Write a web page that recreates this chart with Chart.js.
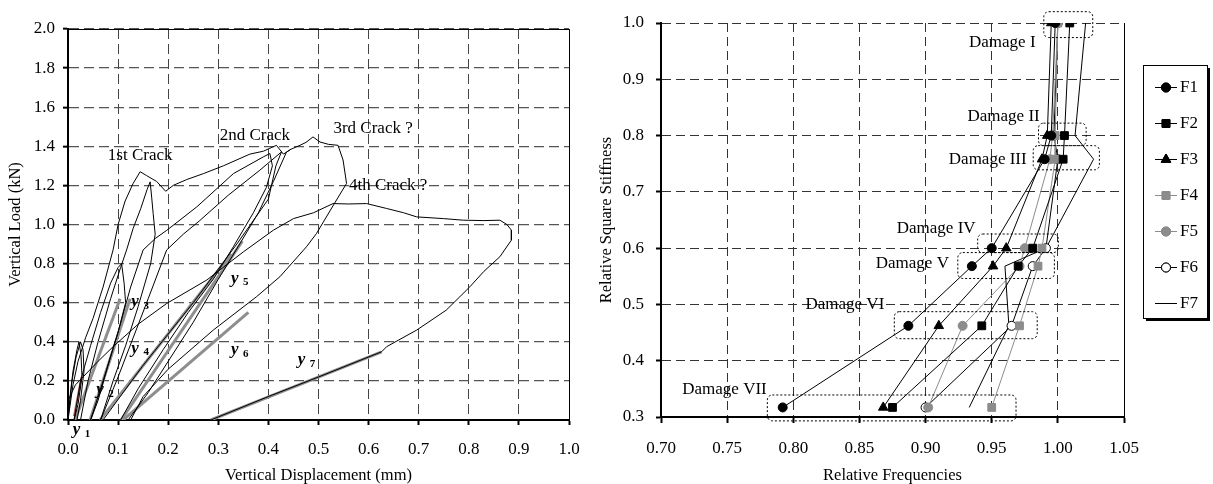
<!DOCTYPE html>
<html>
<head>
<meta charset="utf-8">
<script src="https://cdn.jsdelivr.net/npm/chart.js@4.4.1/dist/chart.umd.min.js"></script>
<style>
  html, body { margin: 0; padding: 0; background: #fff; }
  #wrap { position: relative; width: 1213px; height: 484px; }
  #loadChart { position: absolute; left: 0; top: 0; }
  #freqChart { position: absolute; left: 590px; top: 0; }
</style>
</head>
<body>
<div id="wrap">
  <canvas id="loadChart" width="590" height="484"></canvas>
  <canvas id="freqChart" width="623" height="484"></canvas>
</div>
<script>
// ---- left chart: load / displacement curves, [displacement (mm), load (kN)]
const dispTicks = [0, 0.1, 0.2, 0.3, 0.4, 0.5, 0.6, 0.7, 0.8, 0.9, 1.0];
const loadTicks = [0, 0.2, 0.4, 0.6, 0.8, 1.0, 1.2, 1.4, 1.6, 1.8, 2.0];

const cycleA = [[0, 0], [0.004, 0.12], [0.01, 0.25], [0.018, 0.36], [0.022, 0.40], [0.026, 0.33], [0.028, 0.22], [0.02, 0.08], [0.012, 0]];
const cycleB = [[0.002, 0.05], [0.008, 0.2], [0.016, 0.32], [0.025, 0.40], [0.03, 0.36], [0.032, 0.25], [0.025, 0.1], [0.018, 0]];
const cycleC = [[0.012, 0], [0.025, 0.2], [0.045, 0.38], [0.065, 0.55], [0.085, 0.7], [0.1, 0.78], [0.107, 0.80], [0.112, 0.7], [0.115, 0.6], [0.1, 0.45], [0.08, 0.28], [0.06, 0.1], [0.045, 0]];
const envelope = [[0, 0], [0.01, 0.18], [0.02, 0.3], [0.035, 0.42], [0.05, 0.52], [0.07, 0.68], [0.09, 0.87], [0.1, 1.0], [0.114, 1.12], [0.13, 1.21], [0.144, 1.27], [0.157, 1.25], [0.177, 1.22], [0.195, 1.17], [0.21, 1.2], [0.237, 1.23], [0.27, 1.26], [0.31, 1.3], [0.363, 1.36], [0.39, 1.375], [0.403, 1.39], [0.416, 1.405], [0.43, 1.36], [0.445, 1.385], [0.463, 1.405], [0.475, 1.42], [0.489, 1.448], [0.503, 1.422], [0.52, 1.41], [0.539, 1.405], [0.549, 1.33], [0.556, 1.21], [0.53, 1.1], [0.496, 0.954], [0.476, 0.886], [0.423, 0.733], [0.376, 0.63], [0.29, 0.46], [0.2, 0.26], [0.15, 0.12], [0.125, 0]];
const cycleD = [[0.025, 0], [0.04, 0.2], [0.06, 0.4], [0.085, 0.62], [0.105, 0.78], [0.117, 0.87], [0.13, 0.98], [0.145, 1.08], [0.158, 1.18], [0.164, 1.218], [0.167, 1.14], [0.17, 1.056], [0.174, 0.95], [0.165, 0.8], [0.14, 0.58], [0.115, 0.38], [0.09, 0.2], [0.065, 0]];
const cycleE = [[0.045, 0], [0.07, 0.2], [0.1, 0.45], [0.125, 0.68], [0.15, 0.87], [0.175, 0.93], [0.197, 0.97], [0.257, 1.09], [0.3, 1.19], [0.33, 1.26], [0.39, 1.346], [0.403, 1.363], [0.408, 1.3], [0.396, 1.19], [0.37, 1.06], [0.33, 0.886], [0.29, 0.72], [0.24, 0.55], [0.19, 0.36], [0.14, 0.16], [0.105, 0]];
const cycleF = [[0.065, 0], [0.1, 0.22], [0.13, 0.42], [0.16, 0.62], [0.197, 0.87], [0.23, 0.95], [0.263, 1.02], [0.32, 1.15], [0.383, 1.278], [0.426, 1.371], [0.415, 1.3], [0.4, 1.13], [0.337, 0.90], [0.25, 0.6], [0.15, 0.28], [0.07, 0]];
const cycleG = [[0.12, 0], [0.16, 0.14], [0.2, 0.3], [0.25, 0.5], [0.3, 0.72], [0.345, 0.91], [0.38, 1.06], [0.41, 1.22], [0.436, 1.37], [0.445, 1.385]];
const cycleH = [[0, 0.1], [0.015, 0.18], [0.03, 0.22], [0.06, 0.3], [0.09, 0.375], [0.14, 0.49], [0.197, 0.596], [0.277, 0.716], [0.35, 0.86], [0.41, 0.971], [0.45, 1.03], [0.49, 1.06], [0.529, 1.107], [0.56, 1.105], [0.596, 1.107], [0.636, 1.082], [0.67, 1.06], [0.696, 1.039], [0.75, 1.03], [0.789, 1.022], [0.83, 1.02], [0.862, 1.022], [0.876, 1.0], [0.885, 0.971], [0.885, 0.92], [0.862, 0.835], [0.83, 0.76], [0.802, 0.681], [0.755, 0.562], [0.696, 0.46], [0.636, 0.375], [0.626, 0.349], [0.5, 0.22], [0.4, 0.12], [0.285, 0]];

// stiffness fit lines y1..y7
const fitY1 = [[0.012, 0.02], [0.027, 0.22]];
const fitY2 = [[0.014, 0], [0.104, 0.62]];
const fitY3 = [[0.044, 0], [0.124, 0.62]];
const fitY4 = [[0.064, 0], [0.326, 0.85]];
const fitY5 = [[0.106, 0], [0.348, 0.915]];
const fitY6 = [[0.11, 0], [0.36, 0.55]];
const fitY7 = [[0.285, 0], [0.626, 0.349]];

const crackLabels = ['1st Crack', '2nd Crack', '3rd Crack ?', '4th Crack ?'];
const crackLabelPos = [[0.144, 1.355], [0.373, 1.457], [0.609, 1.491], [0.639, 1.201]];
const fitLabelPos = [[0.017, -0.05], [0.064, 0.153], [0.134, 0.605], [0.134, 0.366], [0.333, 0.724], [0.333, 0.358], [0.466, 0.307]];

// ---- right chart: relative frequencies vs relative square stiffness
const freqTicks = [0.70, 0.75, 0.80, 0.85, 0.90, 0.95, 1.00, 1.05];
const stiffTicks = [0.3, 0.4, 0.5, 0.6, 0.7, 0.8, 0.9, 1.0];
const damageLabels = ['Damage I', 'Damage II', 'Damage III', 'Damage IV', 'Damage V', 'Damage VI', 'Damage VII'];
const stiffness = [1.00, 0.80, 0.758, 0.60, 0.568, 0.462, 0.317];
const freqF1 = [0.998, 0.995, 0.990, 0.950, 0.935, 0.887, 0.792];
const freqF2 = [1.009, 1.005, 1.004, 0.981, 0.970, 0.9425, 0.875];
const freqF3 = [0.995, 0.992, 0.988, 0.961, 0.951, 0.910, 0.868];
const freqF4 = [1.000, 0.998, 0.998, 0.988, 0.985, 0.971, 0.950];
const freqF5 = [1.000, 0.996, 0.994, 0.975, 0.971, 0.928, 0.902];
const freqF6 = [1.000, 0.997, 1.000, 0.991, 0.981, 0.965, 0.900];
const freqF7 = [1.021, 1.013, 1.027, 0.991, 0.960, 0.963, 0.933];

// dotted boxes round each damage cluster: [xmin, xmax, ymin, ymax]
const damageBoxes = [[0.989, 1.026, 0.975, 1.021], [0.985, 1.021, 0.783, 0.823], [0.981, 1.031, 0.740, 0.783], [0.939, 1.000, 0.593, 0.626], [0.924, 0.997, 0.547, 0.593], [0.876, 0.984, 0.440, 0.488], [0.780, 0.968, 0.294, 0.340]];
const damageLabelPos = [[0.958, 0.965], [0.959, 0.834], [0.947, 0.757], [0.908, 0.635], [0.890, 0.572], [0.839, 0.499], [0.748, 0.349]];

const serif = '"Liberation Serif", "Times New Roman", serif';
Chart.defaults.font.family = serif;
Chart.defaults.color = '#000';

function pts(arr) {
    return arr.map(function (p) { return { x: p[0], y: p[1] }; });
}
function seriesPts(xs) {
    return xs.map(function (x, i) { return { x: x, y: stiffness[i] }; });
}
function fixedTicks(list) {
    return function (scale) { scale.ticks = list.map(function (v) { return { value: v }; }); };
}
// force the axis box size so the plot area lands where the original one is
function fixSize(prop, size) {
    return function (s) {
        s[prop] = size;
        s.paddingLeft = 0; s.paddingRight = 0; s.paddingTop = 0; s.paddingBottom = 0;
    };
}

const curveStyle = { borderColor: '#000', borderWidth: 1, pointRadius: 0, tension: 0, fill: false };
const fitStyle = { borderColor: '#8e8e8e', borderWidth: 3, pointRadius: 0, tension: 0, fill: false };

const loadPlugin = {
    id: 'loadNotes',
    afterDatasetsDraw: function (chart) {
        const ctx = chart.ctx, xs = chart.scales.x, ys = chart.scales.y, a = chart.chartArea;
        ctx.save();
        // solid top and right frame
        ctx.strokeStyle = '#000';
        ctx.lineWidth = 1;
        ctx.beginPath();
        ctx.moveTo(a.left, a.top + 0.5);
        ctx.lineTo(a.right + 0.5, a.top + 0.5);
        ctx.lineTo(a.right + 0.5, a.bottom);
        ctx.stroke();

        ctx.fillStyle = '#000';
        ctx.textAlign = 'center';
        ctx.textBaseline = 'middle';
        ctx.font = '17px ' + serif;
        crackLabels.forEach(function (t, i) {
            ctx.fillText(t, xs.getPixelForValue(crackLabelPos[i][0]), ys.getPixelForValue(crackLabelPos[i][1]));
        });
        fitLabelPos.forEach(function (p, i) {
            const px = xs.getPixelForValue(p[0]), py = ys.getPixelForValue(p[1]);
            ctx.font = 'bold italic 17px ' + serif;
            ctx.fillText('y', px, py);
            ctx.font = 'bold 11px ' + serif;
            ctx.fillText(String(i + 1), px + 11, py + 4);
        });
        ctx.restore();
    }
};

new Chart(document.getElementById('loadChart'), {
    type: 'line',
    data: {
        datasets: [
            Object.assign({ data: pts(cycleA) }, curveStyle),
            Object.assign({ data: pts(cycleB) }, curveStyle),
            Object.assign({ data: pts(cycleC) }, curveStyle),
            Object.assign({ data: pts(envelope) }, curveStyle),
            Object.assign({ data: pts(cycleD) }, curveStyle),
            Object.assign({ data: pts(cycleE) }, curveStyle),
            Object.assign({ data: pts(cycleF) }, curveStyle),
            Object.assign({ data: pts(cycleG) }, curveStyle),
            Object.assign({ data: pts(cycleH) }, curveStyle),
            Object.assign({ data: pts(fitY1) }, fitStyle, { borderColor: '#b46060', borderWidth: 2 }),
            Object.assign({ data: pts(fitY2) }, fitStyle),
            Object.assign({ data: pts(fitY3) }, fitStyle),
            Object.assign({ data: pts(fitY4) }, fitStyle),
            Object.assign({ data: pts(fitY5) }, fitStyle),
            Object.assign({ data: pts(fitY6) }, fitStyle),
            Object.assign({ data: pts(fitY7) }, fitStyle)
        ]
    },
    options: {
        responsive: false,
        animation: false,
        layout: { padding: { left: 0, right: 21, top: 29, bottom: 0 } },
        plugins: { legend: { display: false }, tooltip: { enabled: false } },
        scales: {
            x: {
                type: 'linear', min: 0, max: 1,
                afterBuildTicks: fixedTicks(dispTicks),
                afterFit: fixSize('height', 64),
                ticks: { font: { size: 17 }, padding: 14, callback: function (v) { return v.toFixed(1); } },
                grid: { color: '#444', lineWidth: 1, tickColor: '#000', tickLength: 5, tickWidth: 2 },
                border: { color: '#000', width: 2, dash: [10, 5] },
                title: { display: true, text: 'Vertical Displacement (mm)', font: { size: 16.5 }, padding: { top: 0, bottom: -2 } }
            },
            y: {
                type: 'linear', min: 0, max: 2,
                afterBuildTicks: fixedTicks(loadTicks),
                afterFit: fixSize('width', 68),
                ticks: { font: { size: 17 }, padding: 8, callback: function (v) { return v.toFixed(1); } },
                grid: { color: '#555', lineWidth: 1.3, tickColor: '#000', tickLength: 5, tickWidth: 2 },
                border: { color: '#000', width: 2, dash: [10, 5] },
                title: { display: true, text: 'Vertical Load (kN)', font: { size: 16.5 }, padding: { top: 6, bottom: 0 } }
            }
        }
    },
    plugins: [loadPlugin]
});

// ---- right chart
const seriesNames = ['F1', 'F2', 'F3', 'F4', 'F5', 'F6', 'F7'];
const seriesFreq = [freqF1, freqF2, freqF3, freqF4, freqF5, freqF6, freqF7];
const seriesLook = [
    { line: '#000', fill: '#000', edge: '#000', shape: 'circle', r: 4.5 },
    { line: '#000', fill: '#000', edge: '#000', shape: 'rect', r: 5.5 },
    { line: '#000', fill: '#000', edge: '#000', shape: 'triangle', r: 5.5 },
    { line: '#8c8c8c', fill: '#8c8c8c', edge: '#8c8c8c', shape: 'rect', r: 5.5 },
    { line: '#8c8c8c', fill: '#8c8c8c', edge: '#8c8c8c', shape: 'circle', r: 4.5 },
    { line: '#000', fill: '#fff', edge: '#000', shape: 'circle', r: 4.5 },
    { line: '#000', fill: '#000', edge: '#000', shape: false, r: 0 }
];

const freqPlugin = {
    id: 'freqNotes',
    afterDatasetsDraw: function (chart) {
        const ctx = chart.ctx, xs = chart.scales.x, ys = chart.scales.y, a = chart.chartArea;
        ctx.save();
        ctx.strokeStyle = '#000';
        ctx.lineWidth = 1;
        ctx.beginPath();
        ctx.moveTo(a.right + 0.5, a.top);
        ctx.lineTo(a.right + 0.5, a.bottom);
        ctx.stroke();

        // dotted cluster boxes
        ctx.setLineDash([2, 2]);
        damageBoxes.forEach(function (b) {
            const x0 = xs.getPixelForValue(b[0]), x1 = xs.getPixelForValue(b[1]);
            const y0 = ys.getPixelForValue(b[3]), y1 = ys.getPixelForValue(b[2]);
            ctx.beginPath();
            if (ctx.roundRect) ctx.roundRect(x0 + 0.5, y0 + 0.5, x1 - x0, y1 - y0, 5);
            else ctx.rect(x0 + 0.5, y0 + 0.5, x1 - x0, y1 - y0);
            ctx.stroke();
        });
        ctx.setLineDash([]);

        ctx.fillStyle = '#000';
        ctx.font = '17px ' + serif;
        ctx.textAlign = 'center';
        ctx.textBaseline = 'middle';
        damageLabels.forEach(function (t, i) {
            ctx.fillText(t, xs.getPixelForValue(damageLabelPos[i][0]), ys.getPixelForValue(damageLabelPos[i][1]));
        });

        // legend box with shadow
        const lx = 553, ly = 65, lw = 64, lh = 253;
        ctx.fillStyle = '#000';
        ctx.fillRect(lx + 3, ly + 3, lw, lh);
        ctx.fillStyle = '#fff';
        ctx.fillRect(lx, ly, lw, lh);
        ctx.strokeRect(lx + 0.5, ly + 0.5, lw, lh);
        seriesNames.forEach(function (name, i) {
            const look = seriesLook[i];
            const cy = 87 + i * 36;
            ctx.strokeStyle = look.line;
            ctx.lineWidth = 1;
            ctx.beginPath();
            ctx.moveTo(565, cy + 0.5);
            ctx.lineTo(587, cy + 0.5);
            ctx.stroke();
            if (look.shape) {
                Chart.helpers.drawPoint(ctx, {
                    pointStyle: look.shape, radius: look.r, borderWidth: 1, rotation: 0
                }, 576, cy + 0.5);
                ctx.fillStyle = look.fill;
                ctx.strokeStyle = look.edge;
                ctx.fill();
                ctx.stroke();
            }
            ctx.fillStyle = '#000';
            ctx.textAlign = 'left';
            ctx.font = '17px ' + serif;
            ctx.fillText(name, 590, cy + 1);
        });
        ctx.restore();
    }
};

new Chart(document.getElementById('freqChart'), {
    type: 'line',
    data: {
        datasets: seriesNames.map(function (name, i) {
            const look = seriesLook[i];
            return {
                label: name,
                data: seriesPts(seriesFreq[i]),
                borderColor: look.line,
                borderWidth: 1,
                tension: 0,
                fill: false,
                pointStyle: look.shape,
                pointRadius: look.r,
                pointBackgroundColor: look.fill,
                pointBorderColor: look.edge,
                pointBorderWidth: 1
            };
        })
    },
    options: {
        responsive: false,
        animation: false,
        layout: { padding: { left: 0, right: 89, top: 23, bottom: 0 } },
        plugins: { legend: { display: false }, tooltip: { enabled: false } },
        scales: {
            x: {
                type: 'linear', min: 0.70, max: 1.05,
                afterBuildTicks: fixedTicks(freqTicks),
                afterFit: fixSize('height', 67),
                ticks: { font: { size: 17 }, padding: 15, callback: function (v) { return v.toFixed(2); } },
                grid: { color: '#333', lineWidth: 1, tickColor: '#000', tickLength: 6, tickWidth: 2 },
                border: { color: '#000', width: 2, dash: [9, 5] },
                title: { display: true, text: 'Relative Frequencies', font: { size: 16.5 }, padding: { top: 0, bottom: -2 } }
            },
            y: {
                type: 'linear', min: 0.3, max: 1.0,
                afterBuildTicks: fixedTicks(stiffTicks),
                afterFit: fixSize('width', 71),
                ticks: { font: { size: 17 }, padding: 12, callback: function (v) { return v.toFixed(1); } },
                grid: { color: '#333', lineWidth: 1, tickColor: '#000', tickLength: 5, tickWidth: 2 },
                border: { color: '#000', width: 2, dash: [9, 5] },
                title: { display: true, text: 'Relative Square Stiffness', font: { size: 16.5 }, padding: { top: 7, bottom: 0 } }
            }
        }
    },
    plugins: [freqPlugin]
});
</script>
</body>
</html>
